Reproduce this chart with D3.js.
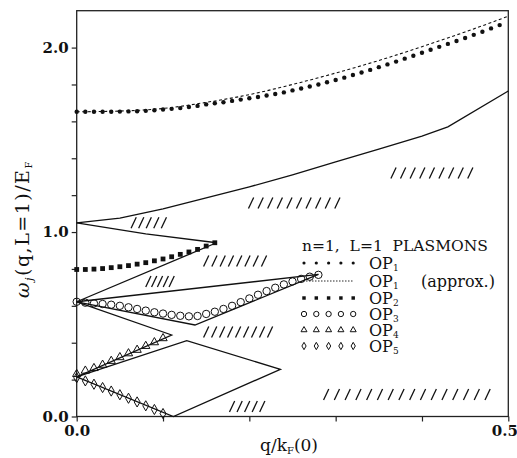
<!DOCTYPE html>
<html>
<head>
<meta charset="utf-8">
<script src="https://cdn.jsdelivr.net/npm/d3@7"></script>
<style>
  body { margin: 0; background: #fff; }
  text { font-family: "DejaVu Serif", serif; fill: #111; }
</style>
</head>
<body>
<script>
// plasmon dispersion, n=1 L=1
const op1 = [[0,1.652],[0.01,1.652],[0.02,1.652],[0.03,1.652],[0.04,1.652],[0.05,1.653],[0.06,1.654],[0.07,1.655],[0.08,1.657],[0.09,1.660],
  [0.10,1.664],[0.11,1.668],[0.12,1.672],[0.13,1.678],[0.14,1.684],[0.15,1.692],[0.16,1.698],[0.17,1.704],[0.18,1.711],[0.19,1.718],
  [0.20,1.725],[0.21,1.732],[0.22,1.740],[0.23,1.748],[0.24,1.757],[0.25,1.768],[0.26,1.778],[0.27,1.789],[0.28,1.800],[0.29,1.812],
  [0.30,1.824],[0.31,1.837],[0.32,1.851],[0.33,1.865],[0.34,1.879],[0.35,1.894],[0.36,1.909],[0.37,1.924],[0.38,1.940],[0.39,1.956],
  [0.40,1.972],[0.41,1.988],[0.42,2.004],[0.43,2.020],[0.44,2.036],[0.45,2.052],[0.46,2.069],[0.47,2.086],[0.48,2.104],[0.49,2.122]];
const op1Approx = [[0,1.652],[0.05,1.656],[0.10,1.670],[0.15,1.703],[0.20,1.745],[0.25,1.800],[0.30,1.862],[0.35,1.930],[0.40,2.005],[0.45,2.085],[0.50,2.170]];
const op2 = [[0,0.797],[0.01,0.797],[0.02,0.799],[0.03,0.802],[0.04,0.807],[0.05,0.812],[0.06,0.818],[0.07,0.826],[0.08,0.834],
  [0.09,0.844],[0.10,0.854],[0.11,0.866],[0.12,0.879],[0.13,0.892],[0.14,0.906],[0.15,0.924],[0.16,0.942]];
const op3 = [[0,0.622],[0.01,0.617],[0.02,0.613],[0.03,0.610],[0.04,0.606],[0.05,0.600],[0.06,0.592],[0.07,0.583],[0.08,0.574],[0.09,0.565],
  [0.10,0.558],[0.11,0.551],[0.12,0.546],[0.13,0.543],[0.14,0.545],[0.15,0.556],[0.16,0.568],[0.17,0.583],[0.18,0.600],[0.19,0.620],
  [0.20,0.640],[0.21,0.660],[0.22,0.680],[0.23,0.698],[0.24,0.716],[0.25,0.732],[0.26,0.746],[0.27,0.758],[0.28,0.768]];
const op4 = [[0,0.230],[0.01,0.248],[0.02,0.262],[0.03,0.280],[0.04,0.301],[0.05,0.321],[0.06,0.342],[0.07,0.361],[0.08,0.382],[0.09,0.402],[0.10,0.424]];
const op5 = [[0,0.210],[0.01,0.193],[0.02,0.175],[0.03,0.157],[0.04,0.138],[0.05,0.118],[0.06,0.099],[0.07,0.079],[0.08,0.058],[0.09,0.038],[0.10,0.016]];

// boundaries of the single-particle regions (solid lines)
const edges = [
  [[0,1.05],[0.05,1.075],[0.10,1.125],[0.15,1.185],[0.20,1.245],[0.25,1.31],[0.30,1.38],[0.35,1.45],[0.40,1.52],[0.43,1.57],[0.50,1.765]],
  [[0,1.05],[0.08,0.99],[0.162,0.942]],
  [[0,0.622],[0.162,0.942]],
  [[0,0.622],[0.28,0.77]],
  [[0,0.622],[0.137,0.496],[0.28,0.77]],
  [[0,0.622],[0.11,0.442],[0,0.215]],
  [[0,0.215],[0.1275,0.411],[0.236,0.256],[0.112,0],[0,0.215]]
];

// hatch groups: q of first slash, q of last slash, omega, number of slashes
const hatches = [
  [0.066,0.101,1.05,5], [0.202,0.302,1.157,10], [0.367,0.456,1.32,9],
  [0.150,0.217,0.843,8], [0.083,0.110,0.732,5], [0.150,0.224,0.458,9],
  [0.180,0.215,0.054,5], [0.289,0.476,0.119,16]
];

const xTicks = [0, 0.1, 0.2, 0.3, 0.4, 0.5];
const xTickLabels = ["0.0", "", "", "", "", "0.5"];
const yTicks = [0, 0.2, 0.4, 0.6, 0.8, 1.0, 1.2, 1.4, 1.6, 1.8, 2.0];
const yTickLabels = ["0.0", "", "", "", "", "1.0", "", "", "", "", "2.0"];

const legendTitle = "n=1,  L=1  PLASMONS";
const legendRows = [
  {sym: "dot", name: "OP", sub: "1", tail: ""},
  {sym: "dash", name: "OP", sub: "1", tail: "(approx.)"},
  {sym: "square", name: "OP", sub: "2", tail: ""},
  {sym: "circle", name: "OP", sub: "3", tail: ""},
  {sym: "triangle", name: "OP", sub: "4", tail: ""},
  {sym: "diamond", name: "OP", sub: "5", tail: ""}
];

const w = 517, h = 458;
const margin = {top: 10.7, right: 8.7, bottom: 41.5, left: 76.7};
const innerW = w - margin.left - margin.right;
const innerH = h - margin.top - margin.bottom;

const svg = d3.select("body").append("svg")
  .attr("width", w)
  .attr("height", h);

const g = svg.append("g")
  .attr("transform", `translate(${margin.left},${margin.top})`);

const x = d3.scaleLinear().domain([0, 0.5]).range([0, innerW]);
const y = d3.scaleLinear().domain([0, 2.2]).range([innerH, 0]);

// axes
const xAxis = g.append("g")
  .attr("transform", `translate(0,${innerH})`)
  .call(d3.axisBottom(x).tickValues(xTicks).tickSize(5).tickPadding(4)
    .tickFormat((d, i) => xTickLabels[i]));
const yAxis = g.append("g")
  .call(d3.axisLeft(y).tickValues(yTicks).tickSize(5).tickPadding(3)
    .tickFormat((d, i) => yTickLabels[i]));

[xAxis, yAxis].forEach(a => {
  a.select(".domain").remove();
  a.selectAll("line").attr("stroke", "#222").attr("stroke-width", 1.2);
  a.selectAll("text")
    .style("font-family", "DejaVu Serif")
    .style("font-size", "15px")
    .style("font-weight", "bold")
    .attr("fill", "#111");
});
// last x label sits at the window edge
xAxis.selectAll(".tick text").filter((d, i) => i == xTicks.length - 1).attr("dx", -4);

// frame
g.append("rect")
  .attr("width", innerW)
  .attr("height", innerH)
  .attr("fill", "none")
  .attr("stroke", "#222")
  .attr("stroke-width", 1.3);

const line = d3.line().x(d => x(d[0])).y(d => y(d[1]));

g.selectAll(".edge")
  .data(edges)
  .enter()
  .append("path")
  .attr("class", "edge")
  .attr("d", line)
  .attr("fill", "none")
  .attr("stroke", "#111")
  .attr("stroke-width", 1.3);

g.append("path")
  .attr("d", d3.line().x(d => x(d[0])).y(d => y(d[1])).curve(d3.curveMonotoneX)(op1Approx))
  .attr("fill", "none")
  .attr("stroke", "#111")
  .attr("stroke-width", 1.1)
  .attr("stroke-dasharray", "3,2.5");

// hatch marks
hatches.forEach(hg => {
  const x0 = x(hg[0]), x1 = x(hg[1]), yc = y(hg[2]), n = hg[3];
  const step = (x1 - x0) / (n - 1);
  for (let i = 0; i < n; i++) {
    const xc = x0 + i * step;
    g.append("line")
      .attr("x1", xc - 2.6).attr("y1", yc + 5.5)
      .attr("x2", xc + 2.6).attr("y2", yc - 5.5)
      .attr("stroke", "#111")
      .attr("stroke-width", 1.3);
  }
});

// markers
function drawMarker(sel, sym, big) {
  const s = big ? 1 : 0.72;
  if (sym == "dot") {
    sel.append("circle").attr("r", 2.2 * s).attr("fill", "#111");
  } else if (sym == "square") {
    sel.append("rect").attr("x", -2.4 * s).attr("y", -2.4 * s)
      .attr("width", 4.8 * s).attr("height", 4.8 * s).attr("fill", "#111");
  } else if (sym == "circle") {
    sel.append("circle").attr("r", 3.7 * s).attr("fill", "none")
      .attr("stroke", "#111").attr("stroke-width", 1);
  } else if (sym == "triangle") {
    sel.append("path").attr("d", d3.symbol(d3.symbolTriangle, 30 * s * s)())
      .attr("fill", "none").attr("stroke", "#111").attr("stroke-width", 1);
  } else if (sym == "diamond") {
    sel.append("path").attr("d", d3.symbol(d3.symbolDiamond, 30 * s * s)())
      .attr("fill", "none").attr("stroke", "#111").attr("stroke-width", 1);
  }
}

const seriesList = [[op1, "dot"], [op2, "square"], [op3, "circle"], [op4, "triangle"], [op5, "diamond"]];
seriesList.forEach(sr => {
  g.append("g").selectAll("g")
    .data(sr[0])
    .enter()
    .append("g")
    .attr("transform", d => `translate(${x(d[0])},${y(d[1])})`)
    .each(function () { drawMarker(d3.select(this), sr[1], true); });
});

// legend
const leg = svg.append("g").attr("transform", "translate(302,251)");
leg.append("text")
  .text(legendTitle)
  .style("white-space", "pre")
  .style("font-size", "15.5px");

const rowY = [12, 30, 47, 63, 79, 95];
legendRows.forEach((r, i) => {
  const row = leg.append("g").attr("transform", `translate(0,${rowY[i]})`);
  if (r.sym == "dash") {
    row.append("line").attr("x1", 1).attr("x2", 52).attr("y1", 0).attr("y2", 0)
      .attr("stroke", "#111").attr("stroke-width", 0.9).attr("stroke-dasharray", "1.5,1.5");
  } else {
    for (let k = 0; k < 5; k++) {
      const m = row.append("g").attr("transform", `translate(${2 + k * 12.3},0)`);
      drawMarker(m, r.sym, false);
    }
  }
  const t = row.append("text").attr("x", 67).attr("y", 5.5)
    .style("font-size", "16px");
  t.append("tspan").text(r.name);
  t.append("tspan").text(r.sub).style("font-size", "9px").attr("dy", 2.5);
  if (r.tail) t.append("tspan").text(r.tail).attr("x", 119).attr("dy", -2.5);
});

// axis titles
const yl = svg.append("text")
  .attr("transform", "translate(29,229) rotate(-90)")
  .attr("text-anchor", "middle")
  .style("font-size", "19px")
  .style("letter-spacing", "1.5px");
yl.append("tspan").text("ω").style("font-style", "italic");
yl.append("tspan").text("j").style("font-style", "italic").style("font-size", "11px").attr("dy", 4);
yl.append("tspan").text("(q,L=1)/E").attr("dy", -4);
yl.append("tspan").text("F").style("font-size", "10px").attr("dy", 3);

const xl = svg.append("text")
  .attr("x", 289)
  .attr("y", 451)
  .attr("text-anchor", "middle")
  .style("font-size", "17px");
xl.append("tspan").text("q/k");
xl.append("tspan").text("F").style("font-size", "10px").attr("dy", 3);
xl.append("tspan").text("(0)").attr("dy", -3);
</script>
</body>
</html>
